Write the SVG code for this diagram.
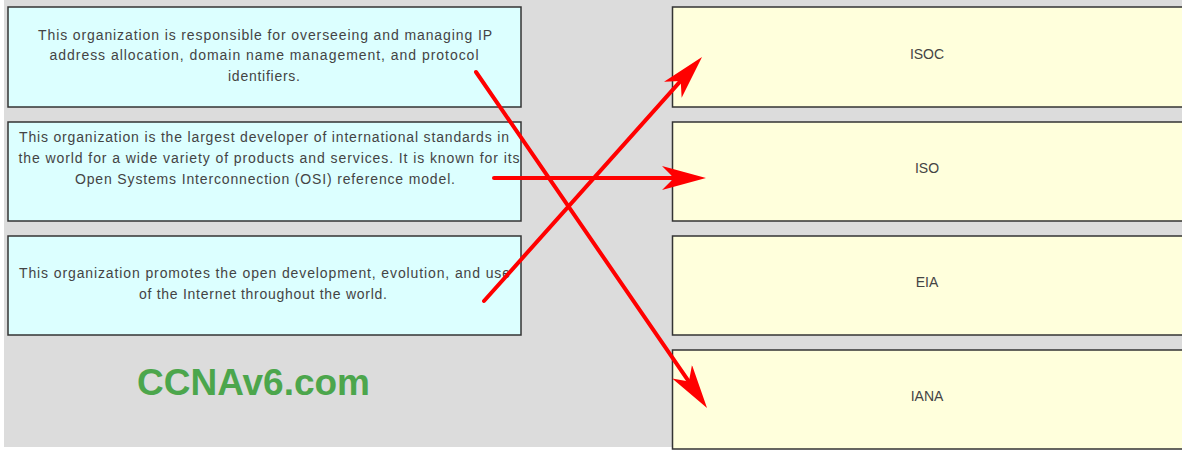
<svg xmlns="http://www.w3.org/2000/svg" width="1182" height="450" viewBox="0 0 1182 450">
<style>
.bg{fill:#dcdcdc}
.q{fill:#dcffff;stroke:#333;stroke-width:1.5}
.a{fill:#ffffdc;stroke:#333;stroke-width:1.5}
.t{font-family:"Liberation Sans",Arial,sans-serif;font-size:14px;fill:#444;text-anchor:middle}
.c{fill:none;stroke:#ff0000;stroke-width:4;stroke-linecap:round}
.wm{font-family:"Liberation Sans",Arial,sans-serif;font-size:37px;font-weight:bold;fill:#4ca64c}
</style>
<defs>
<marker id="ah" markerUnits="userSpaceOnUse" viewBox="0 0 44 24" markerWidth="44" markerHeight="24" refX="12" refY="12" orient="auto">
<path d="M0,0 L44,12 L0,24 L12,12 Z" fill="#ff0000"/>
</marker>
</defs>
<rect x="0" y="0" width="1182" height="450" fill="#ffffff"/>
<rect class="bg" x="4" y="0" width="1178" height="447"/>
<g id="q1">
<rect class="q" x="8" y="7" width="513" height="100"/>
<text class="t" x="265" y="40" textLength="454" lengthAdjust="spacing">This organization is responsible for overseeing and managing IP</text>
<text class="t" x="264" y="60" textLength="429" lengthAdjust="spacing">address allocation, domain name management, and protocol</text>
<text class="t" x="264" y="81" textLength="72" lengthAdjust="spacing">identifiers.</text>
</g>
<g id="q2">
<rect class="q" x="8" y="122" width="513" height="99"/>
<text class="t" x="264" y="142" textLength="490" lengthAdjust="spacing">This organization is the largest developer of international standards in</text>
<text class="t" x="269" y="163" textLength="501" lengthAdjust="spacing">the world for a wide variety of products and services. It is known for its</text>
<text class="t" x="265" y="184" textLength="380" lengthAdjust="spacing">Open Systems Interconnection (OSI) reference model.</text>
</g>
<g id="q3">
<rect class="q" x="8" y="236" width="513" height="99"/>
<text class="t" x="264.5" y="278" textLength="491" lengthAdjust="spacing">This organization promotes the open development, evolution, and use</text>
<text class="t" x="263" y="299" textLength="248" lengthAdjust="spacing">of the Internet throughout the world.</text>
</g>
<g id="isoc">
<rect class="a" x="672.5" y="7" width="515" height="100"/>
<text class="t" x="927" y="59">ISOC</text>
</g>
<g id="iso">
<rect class="a" x="672.5" y="122" width="515" height="99"/>
<text class="t" x="927" y="173">ISO</text>
</g>
<g id="eia">
<rect class="a" x="672.5" y="236" width="515" height="99"/>
<text class="t" x="927" y="287">EIA</text>
</g>
<g id="iana">
<rect class="a" x="672.5" y="350" width="515" height="99"/>
<text class="t" x="927" y="401">IANA</text>
</g>
<g id="connectors">
<line class="c" x1="476" y1="72" x2="688.9" y2="381.6" marker-end="url(#ah)"/>
<line class="c" x1="494" y1="178" x2="674" y2="178" marker-end="url(#ah)"/>
<line class="c" x1="484" y1="301" x2="680.7" y2="80.9" marker-end="url(#ah)"/>
</g>
<text class="wm" x="137" y="395">CCNAv6.com</text>
</svg>
